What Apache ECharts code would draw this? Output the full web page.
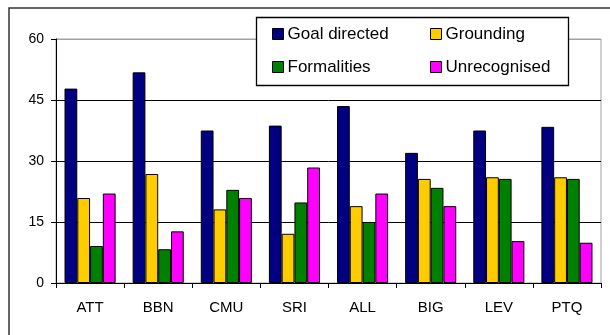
<!DOCTYPE html>
<html>
<head>
<meta charset="utf-8">
<script src="https://cdn.jsdelivr.net/npm/echarts@6/dist/echarts.min.js"></script>
<style>
  html, body { margin: 0; padding: 0; background: #fff; }
  #chart { width: 610px; height: 335px; }
</style>
</head>
<body>
<div id="chart"></div>
<script>
// Dialogue act categories per system
const categories = ['ATT', 'BBN', 'CMU', 'SRI', 'ALL', 'BIG', 'LEV', 'PTQ'];
const goalDirected = [47.8, 51.8, 37.5, 38.7, 43.5, 32.0, 37.5, 38.4];
const grounding    = [20.9, 26.8, 18.1, 12.1, 18.9, 25.6, 26.0, 26.0];
const formalities  = [9.1, 8.3, 22.9, 19.8, 15.0, 23.4, 25.6, 25.6];
const unrecognised = [22.0, 12.7, 20.9, 28.4, 22.0, 18.9, 10.3, 9.9];
const yTicks = [0, 15, 30, 45, 60];

const FONT = '"Liberation Sans", Arial, sans-serif';

const seriesDefs = [
  { name: 'Goal directed', data: goalDirected, color: '#000080' },
  { name: 'Grounding', data: grounding, color: '#FFCC00' },
  { name: 'Formalities', data: formalities, color: '#008000' },
  { name: 'Unrecognised', data: unrecognised, color: '#FF00FF' }
];

// One legend per item so the 2x2 layout sits exactly inside the boxed key
const legendPos = {
  'Goal directed': { left: 272, top: 25.5 },
  'Formalities':   { left: 272, top: 58.5 },
  'Grounding':     { left: 430, top: 25.5 },
  'Unrecognised':  { left: 430, top: 58.5 }
};

const chart = echarts.init(document.getElementById('chart'), null, { renderer: 'canvas' });

chart.setOption({
  animation: false,
  backgroundColor: '#fff',
  grid: {
    left: 56, right: 9, top: 39, bottom: 52,
    show: true, borderColor: '#a0a0a0', borderWidth: 1, backgroundColor: 'transparent'
  },
  legend: seriesDefs.map(s => ({
    data: [s.name],
    left: legendPos[s.name].left,
    top: legendPos[s.name].top,
    padding: 0,
    itemWidth: 11,
    itemHeight: 11,
    itemGap: 0,
    icon: 'rect',
    selectedMode: false,
    z: 20,
    itemStyle: { borderColor: '#000', borderWidth: 1 },
    textStyle: { fontFamily: FONT, fontSize: 17, color: '#000', lineHeight: 17, padding: [0, 0, 0, -1] }
  })),
  xAxis: {
    type: 'category',
    data: categories,
    axisLine: { lineStyle: { color: '#000', width: 1 } },
    axisTick: { show: true, length: 5, lineStyle: { color: '#000' } },
    axisLabel: { fontFamily: FONT, fontSize: 15, color: '#000', margin: 17 }
  },
  yAxis: {
    type: 'value',
    min: yTicks[0],
    max: yTicks[yTicks.length - 1],
    interval: 15,
    axisLine: { show: true, lineStyle: { color: '#000', width: 1 } },
    axisTick: { show: true, length: 5, lineStyle: { color: '#000' } },
    axisLabel: { fontFamily: FONT, fontSize: 14, color: '#000', margin: 12 },
    splitLine: { show: true, lineStyle: { color: ['#000', '#000', '#000', '#000', '#a0a0a0'], width: 1 } }
  },
  series: seriesDefs.map(s => ({
    name: s.name,
    type: 'bar',
    data: s.data,
    barGap: '0%',
    barCategoryGap: '25%',
    itemStyle: { color: s.color, borderColor: '#000', borderWidth: 1 }
  })),
  graphic: [
    // outer chart frame (top and left edges visible)
    {
      type: 'rect', z: 5, silent: true,
      shape: { x: 9, y: 8, width: 700, height: 400 },
      style: { fill: 'none', stroke: '#333', lineWidth: 1.5 }
    },
    // key box
    {
      type: 'rect', z: 10, silent: true,
      shape: { x: 256.5, y: 17.5, width: 312, height: 68 },
      style: { fill: '#fff', stroke: '#000', lineWidth: 1.3 }
    }
  ]
});
</script>
</body>
</html>
